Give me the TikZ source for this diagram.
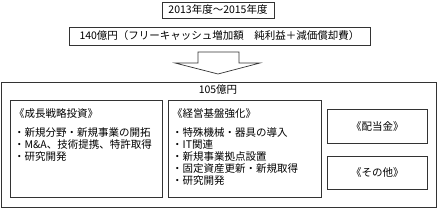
\documentclass[tikz,border=0pt]{standalone}
\usepackage{fontspec}
\setmainfont{Noto Sans CJK JP}
\begin{document}
\begin{tikzpicture}[x=1pt,y=-1pt,
  box/.style={draw=black!80, line width=0.7pt, inner sep=0pt, anchor=north west,
    font=\fontsize{10.5}{12}\selectfont},
  txt/.style={inner sep=0pt, anchor=base west, font=\fontsize{10.5}{12}\selectfont},
  blockarrow/.style={draw=black!80, line width=0.7pt, line join=miter, fill=white},
]
\useasboundingbox (0,0) rectangle (438,208);
% top boxes
\node[box, anchor=center, minimum width=112pt, minimum height=16pt] (period) at (218,10) {2013年度～2015年度};
\node[box, anchor=center, minimum width=301pt, minimum height=18pt] (fcf) at (219.5,36) {140億円（フリーキャッシュ増加額　純利益＋減価償却費）};
% block arrow
\draw[blockarrow] (198,52) -- (239,52) -- (239,63) -- (260,63) -- (218,74) -- (175,63) -- (198,63) -- cycle;
% outer box
\node[box, minimum width=435pt, minimum height=125pt] (total) at (1,82) {};
\node[txt, anchor=base] (amount) at (218,94) {105億円};
% inner boxes
\node[box, minimum width=152pt, minimum height=97pt] (growth) at (10,100) {};
\node[box, minimum width=153pt, minimum height=97pt] (base) at (168,100) {};
\node[box, minimum width=100pt, minimum height=34pt] (dividend) at (327,109) {《配当金》};
\node[box, minimum width=100pt, minimum height=33pt] (other) at (327,156) {《その他》};
% growth box text
\node[txt] (gtitle) at (14,118) {《成長戦略投資》};
\node[txt] (g1) at (14,136) {・新規分野・新規事業の開拓};
\node[txt] (g2) at (14,148) {・M\&A、技術提携、特許取得};
\node[txt] (g3) at (14,160) {・研究開発};
% base box text
\node[txt] (btitle) at (172,118) {《経営基盤強化》};
\node[txt] (b1) at (172,136) {・特殊機械・器具の導入};
\node[txt] (b2) at (172,148) {・IT関連};
\node[txt] (b3) at (172,160) {・新規事業拠点設置};
\node[txt] (b4) at (172,172) {・固定資産更新・新規取得};
\node[txt] (b5) at (172,184) {・研究開発};
\end{tikzpicture}
\end{document}
